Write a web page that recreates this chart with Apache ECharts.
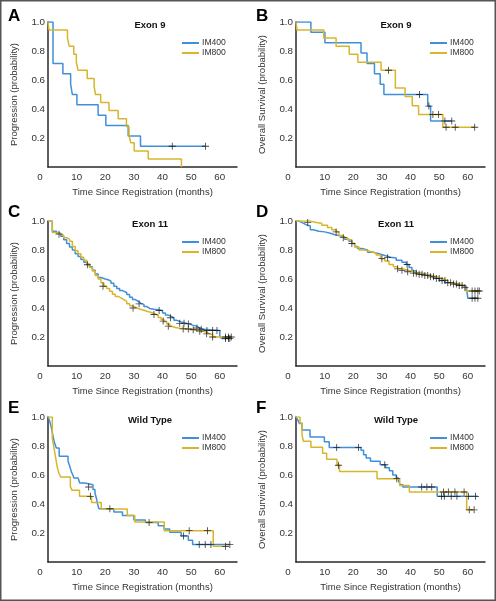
<!DOCTYPE html>
<html>
<head>
<meta charset="utf-8">
<script src="https://cdn.jsdelivr.net/npm/echarts@6/dist/echarts.min.js"></script>
<style>
html,body{margin:0;padding:0;background:#fff;}
#chart{width:496px;height:601px;}
</style>
</head>
<body>
<div id="chart"></div>
<script>
// ---------- DATA (months, survival probability) ----------
const X_TICKS = [0, 10, 20, 30, 40, 50, 60];
const Y_TICKS = [0.2, 0.4, 0.6, 0.8, 1.0];
const GROUPS = ['IM400', 'IM800'];

// A: Exon 9, progression
const A_IM400 = [[0,1],[1.75,0.714],[5.2,0.643],[7.9,0.571],[8.5,0.5],[10.1,0.429],[17.5,0.357],[20.2,0.286],[28,0.214],[32.3,0.143],[55,0.143]];
const A_IM400_CENS = [[43.4,0.143],[55,0.143]];
const A_IM800 = [[0,1],[0.35,0.944],[6.8,0.889],[7.4,0.833],[9.0,0.778],[9.9,0.722],[10.5,0.667],[13.7,0.611],[16.1,0.556],[16.6,0.5],[18.4,0.444],[21.3,0.389],[24.5,0.333],[27.4,0.278],[28.3,0.222],[28.9,0.167],[30.1,0.111],[35,0.056],[46.6,0]];
const A_IM800_CENS = [];

// B: Exon 9, overall survival
const B_IM400 = [[0,1],[5.2,0.929],[10.1,0.857],[22.7,0.786],[24.8,0.714],[27.4,0.643],[29.4,0.571],[30.7,0.5],[46,0.42],[47,0.317],[54.5,0.317]];
const B_IM400_CENS = [[43.1,0.5],[46.4,0.42],[52,0.317],[54.4,0.317]];
const B_IM800 = [[0,1],[0.35,0.944],[9.7,0.889],[14,0.833],[18.6,0.778],[21.6,0.722],[29.7,0.667],[34.7,0.544],[38.1,0.487],[40.6,0.423],[42.8,0.362],[51.3,0.274],[62.5,0.274]];
const B_IM800_CENS = [[32.3,0.667],[47.8,0.362],[49.8,0.362],[52.4,0.274],[55.6,0.274],[62.4,0.274]];

// C: Exon 11, progression
const C_IM400 = [[0,1],[1.5,0.93],[3,0.915],[4.5,0.895],[5.5,0.87],[6.5,0.845],[7.5,0.82],[8.5,0.8],[9.5,0.775],[10.5,0.755],[11.5,0.735],[12.5,0.715],[13.5,0.70],[14.5,0.685],[15.5,0.66],[16.5,0.635],[17.5,0.61],[18.5,0.6],[20,0.595],[21,0.585],[22,0.57],[23,0.55],[24,0.535],[25,0.52],[26,0.507],[27.5,0.493],[28.5,0.475],[29.5,0.458],[30.5,0.445],[31.5,0.432],[32.5,0.425],[33.5,0.41],[34.5,0.397],[35.5,0.392],[37,0.388],[38.5,0.383],[40,0.365],[41,0.351],[42,0.342],[43,0.333],[44,0.315],[45,0.303],[46.5,0.294],[48.5,0.29],[49.5,0.282],[50.5,0.275],[52,0.262],[53,0.253],[54.5,0.245],[60,0.207],[60.6,0.19],[63.5,0.19]];
const C_IM400_CENS = [[3.85,0.909],[13.75,0.698],[31.8,0.429],[38.8,0.383],[42.8,0.333],[46,0.294],[47.5,0.294],[49,0.29],[52,0.262],[53.5,0.253],[55.5,0.245],[57.5,0.245],[59,0.245],[62,0.19],[63,0.19],[63.5,0.19]];
const C_IM800 = [[0,1],[1.5,0.92],[3,0.91],[4.5,0.9],[5.5,0.885],[6.5,0.875],[7.5,0.86],[8.5,0.825],[9.5,0.795],[10.5,0.775],[11.5,0.75],[12.5,0.73],[13.5,0.705],[14.5,0.68],[15.5,0.655],[16.5,0.625],[17.5,0.6],[18.5,0.575],[19.5,0.55],[20.5,0.535],[21.5,0.515],[22.5,0.495],[23.5,0.48],[24.5,0.47],[25.5,0.458],[26.5,0.445],[27.5,0.43],[28.5,0.415],[29.5,0.405],[30.5,0.397],[31.5,0.39],[32.5,0.385],[33.5,0.378],[34.5,0.372],[35.5,0.365],[36.5,0.358],[37.5,0.35],[38.5,0.335],[39.5,0.32],[40.5,0.305],[41.5,0.29],[42.5,0.272],[43.5,0.265],[44.5,0.26],[46,0.257],[48,0.255],[50,0.25],[51.5,0.245],[53,0.24],[54.5,0.232],[55.5,0.222],[56.5,0.215],[57.5,0.2],[64,0.2]];
const C_IM800_CENS = [[19.2,0.55],[29.7,0.40],[37,0.355],[40.2,0.31],[42,0.275],[47.2,0.256],[49,0.255],[50.7,0.25],[53,0.24],[55.4,0.222],[57.5,0.2],[62,0.2],[63,0.2],[64,0.2]];

// D: Exon 11, overall survival
const D_IM400 = [[0,1],[1,0.99],[2,0.98],[3,0.97],[4,0.965],[5,0.94],[6,0.93],[8,0.925],[10,0.915],[12,0.905],[13.5,0.9],[15,0.89],[17,0.875],[18.5,0.86],[19.5,0.845],[20.5,0.825],[21.5,0.81],[23,0.8],[25,0.785],[27,0.775],[29,0.762],[31,0.75],[33,0.745],[35,0.73],[37,0.715],[38.5,0.7],[39.5,0.68],[40.5,0.655],[42,0.64],[44,0.63],[46,0.62],[48,0.605],[50,0.59],[52,0.575],[54,0.565],[56,0.555],[58,0.548],[59.5,0.54],[60,0.467],[63.5,0.467]];
const D_IM400_CENS = [[32,0.747],[38.8,0.70],[61.5,0.467],[62.5,0.467],[63.5,0.467]];
const D_IM800 = [[0,1],[3,1.0],[5,0.99],[7,0.985],[9,0.97],[11,0.955],[12.5,0.94],[14,0.925],[15,0.9],[16.5,0.885],[18,0.87],[19.5,0.845],[20.5,0.82],[22,0.8],[24,0.79],[26,0.78],[28,0.765],[29.5,0.74],[31,0.725],[32.5,0.7],[34,0.685],[35.5,0.67],[37,0.66],[39,0.65],[41,0.64],[43,0.632],[45,0.625],[47,0.615],[49,0.603],[51,0.59],[53,0.575],[55,0.565],[57,0.555],[59,0.54],[59.5,0.517],[64,0.517]];
const D_IM800_CENS = [[4.1,0.99],[14,0.925],[16.5,0.885],[19.5,0.845],[30,0.74],[35.5,0.67],[37,0.66],[39,0.65],[41,0.64],[42,0.64],[43,0.632],[44,0.632],[45,0.625],[46,0.625],[47,0.615],[48,0.615],[49,0.603],[50,0.603],[51,0.59],[52,0.59],[53,0.575],[54,0.575],[55,0.565],[56,0.565],[57,0.555],[58,0.555],[59,0.54],[61.5,0.517],[62.5,0.517],[63.5,0.517],[64,0.517]];

// E: Wild type, progression
const E_IM400 = [[0,1],[0.6,0.97],[1.2,0.925],[1.8,0.862],[2.3,0.82],[2.9,0.786],[3.9,0.729],[7,0.694],[7.6,0.66],[8.2,0.62],[8.7,0.6],[9.0,0.58],[10.5,0.568],[11.1,0.545],[12.8,0.533],[15.7,0.5],[16.4,0.476],[16.9,0.44],[17.3,0.4],[17.8,0.367],[23,0.345],[26,0.32],[30,0.29],[34,0.273],[38.5,0.25],[40.5,0.227],[42.5,0.205],[46.5,0.18],[49,0.15],[50.5,0.12],[63.5,0.12]];
const E_IM400_CENS = [[14.2,0.517],[21.6,0.367],[35.3,0.273],[47.3,0.18],[52.8,0.12],[54.9,0.12],[56.9,0.12],[63.5,0.12]];
const E_IM800 = [[0,1],[1.5,0.855],[2.1,0.786],[2.7,0.717],[3.3,0.648],[3.8,0.614],[4.4,0.586],[7.8,0.52],[8.4,0.494],[11,0.453],[15.2,0.41],[18.6,0.366],[27.7,0.32],[30.3,0.276],[40.6,0.216],[57.7,0.108],[63,0.108]];
const E_IM800_CENS = [[14.8,0.453],[49.3,0.216],[55.7,0.216],[62,0.108]];

// F: Wild type, overall survival
const F_IM400 = [[0,1],[0.6,0.98],[1.2,0.955],[2.1,0.91],[4.9,0.862],[9.9,0.83],[11.6,0.79],[22.7,0.77],[23.6,0.74],[24.5,0.717],[26.0,0.694],[29.4,0.671],[31.3,0.65],[32.6,0.63],[33.8,0.6],[35.0,0.58],[35.8,0.56],[36.4,0.533],[37.3,0.517],[49.3,0.453],[63.5,0.453]];
const F_IM400_CENS = [[14.2,0.79],[21.8,0.79],[31.0,0.671],[43.9,0.517],[45.7,0.517],[47.4,0.517],[50.8,0.453],[51.8,0.453],[54.2,0.453],[56.2,0.453],[60.2,0.453],[62.7,0.453]];
const F_IM800 = [[0,1],[1.4,0.958],[2.1,0.875],[2.6,0.833],[5.2,0.792],[9.3,0.75],[10.7,0.708],[14.3,0.667],[15.2,0.625],[28.3,0.575],[36.2,0.528],[39.6,0.483],[59.6,0.36],[62.2,0.36]];
const F_IM800_CENS = [[14.8,0.667],[35.2,0.575],[51.5,0.483],[53.2,0.483],[55.5,0.483],[58.7,0.483],[60.5,0.36],[62.2,0.36]];

// ---------- LAYOUT / STYLE ----------
const FONT = "'Liberation Sans',Arial,sans-serif";
const FONT_B = "'Liberation Sans',Arial,sans-serif";
const COLORS = {IM400: '#3f8fdb', IM800: '#d8b62c'};
const COL_LEFT = [48, 296];
const GRID_W = 189;
const ROW_TOP = [22, 221, 417];
const GRID_H = 145;

const panels = [
  {letter:'A', title:'Exon 9', yName:'Progression (probability)', col:0, row:0, s:[A_IM400, A_IM800], c:[A_IM400_CENS, A_IM800_CENS]},
  {letter:'B', title:'Exon 9', yName:'Overall Survival (probability)', col:1, row:0, s:[B_IM400, B_IM800], c:[B_IM400_CENS, B_IM800_CENS]},
  {letter:'C', title:'Exon 11', yName:'Progression (probability)', col:0, row:1, s:[C_IM400, C_IM800], c:[C_IM400_CENS, C_IM800_CENS]},
  {letter:'D', title:'Exon 11', yName:'Overall Survival (probability)', col:1, row:1, s:[D_IM400, D_IM800], c:[D_IM400_CENS, D_IM800_CENS]},
  {letter:'E', title:'Wild Type', yName:'Progression (probability)', col:0, row:2, s:[E_IM400, E_IM800], c:[E_IM400_CENS, E_IM800_CENS]},
  {letter:'F', title:'Wild Type', yName:'Overall Survival (probability)', col:1, row:2, s:[F_IM400, F_IM800], c:[F_IM400_CENS, F_IM800_CENS]}
];

const PLUS = 'path://M4.4,0H5.6V4.4H10V5.6H5.6V10H4.4V5.6H0V4.4H4.4Z';
const axisCol = '#2a2a2a';
const TXT = '#333';

const grid = [], xAxis = [], yAxis = [], series = [], legend = [], graphic = [];

panels.forEach((p, i) => {
  const left = COL_LEFT[p.col], top = ROW_TOP[p.row];
  grid.push({left: left, top: top, width: GRID_W, height: GRID_H, containLabel: false});
  xAxis.push({
    type: 'value', gridIndex: i, min: 0, max: 66, interval: 10,
    name: 'Time Since Registration (months)', nameLocation: 'middle', nameGap: 20,
    nameTextStyle: {fontFamily: FONT, fontSize: 9.5, color: TXT},
    axisLine: {show: true, onZero: false, lineStyle: {color: axisCol, width: 1.5}},
    axisTick: {show: false}, splitLine: {show: false},
    axisLabel: {
      margin: 5, fontFamily: FONT, fontSize: 9.8, color: TXT,
      formatter: v => (X_TICKS.indexOf(v) < 0 ? '' : (v === 0 ? '{z|0}' : String(v))),
      rich: {z: {padding: [0, 16, 0, 0], fontFamily: FONT, fontSize: 9.8, color: TXT}}
    }
  });
  yAxis.push({
    type: 'value', gridIndex: i, min: 0, max: 1, interval: 0.2,
    name: p.yName, nameLocation: 'middle', nameGap: 29,
    nameTextStyle: {fontFamily: FONT, fontSize: 9.5, color: TXT},
    axisLine: {show: true, onZero: false, lineStyle: {color: axisCol, width: 1.5}},
    axisTick: {show: false}, splitLine: {show: false},
    axisLabel: {
      margin: 3, fontFamily: FONT, fontSize: 9.8, color: TXT,
      formatter: v => {
        const f = Math.round(v * 10) / 10;
        return Y_TICKS.indexOf(f) < 0 ? '' : f.toFixed(1);
      }
    }
  });
  GROUPS.forEach((g, k) => {
    series.push({
      name: g, type: 'line', step: 'end', xAxisIndex: i, yAxisIndex: i,
      data: p.s[k], showSymbol: false, symbol: 'none',
      lineStyle: {color: COLORS[g], width: 1.5}, itemStyle: {color: COLORS[g]},
      z: 2 + k, animation: false
    });
  });
  series.push({
    name: 'censored', type: 'scatter', xAxisIndex: i, yAxisIndex: i,
    data: p.c[0].concat(p.c[1]), symbol: PLUS, symbolSize: 7,
    itemStyle: {color: '#111'}, z: 5, animation: false, silent: true
  });
  legend.push({
    data: GROUPS, orient: 'vertical', left: left + 134, top: top + 16,
    icon: 'rect', itemWidth: 17, itemHeight: 2, itemGap: 0, padding: 0,
    selectedMode: false,
    textStyle: {fontFamily: FONT, fontSize: 8.6, color: TXT, lineHeight: 10, padding: [0, 0, 0, -2]}
  });
  graphic.push({
    type: 'text', x: left + (p.col === 0 ? 102 : 100), y: top + 3,
    style: {text: p.title, font: 'bold 9.5px ' + FONT_B, fill: '#111',
      textAlign: 'center', align: 'center', textVerticalAlign: 'middle', verticalAlign: 'middle'}
  });
  graphic.push({
    type: 'text', x: left - 40, y: top - 6 - (p.row === 0 ? 0 : 3),
    style: {text: p.letter, font: 'bold 17px ' + FONT_B, fill: '#000',
      textAlign: 'left', align: 'left', textVerticalAlign: 'middle', verticalAlign: 'middle'}
  });
});

graphic.push({
  type: 'rect', shape: {x: 0.75, y: 0.75, width: 494.5, height: 599.5},
  style: {fill: 'none', stroke: '#555', lineWidth: 1.5}, silent: true
});

const chart = echarts.init(document.getElementById('chart'), null, {renderer: 'canvas'});
chart.setOption({
  backgroundColor: '#fff',
  animation: false,
  grid, xAxis, yAxis, series, legend, graphic
});
</script>
</body>
</html>
